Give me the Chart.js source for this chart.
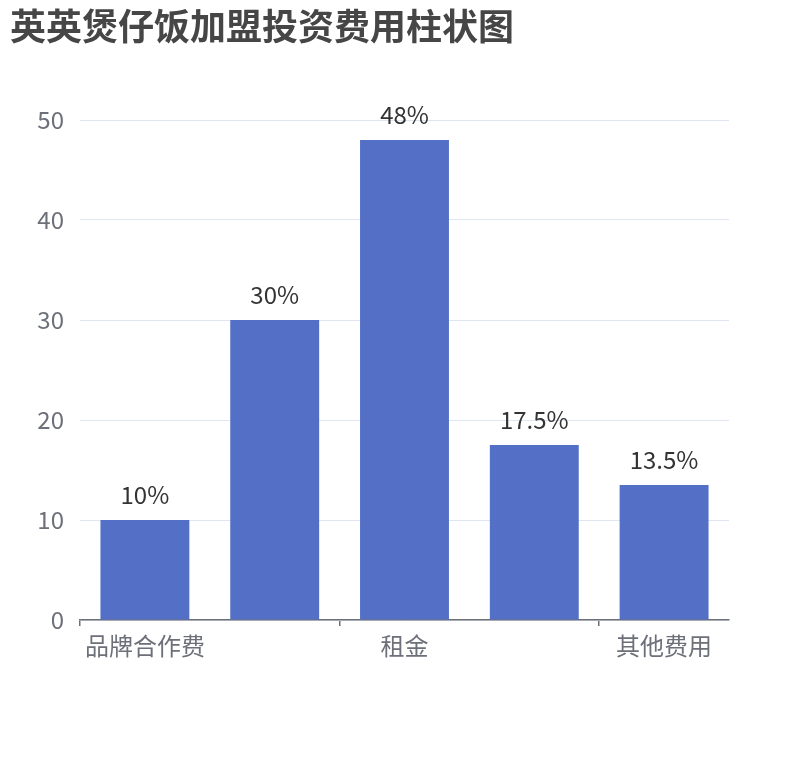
<!DOCTYPE html>
<html>
<head>
<meta charset="utf-8">
<script src="https://cdn.jsdelivr.net/npm/chart.js@4/dist/chart.umd.min.js"></script>
<style>
  body { margin: 0; background: #fff; }
  #wrap { width: 810px; height: 760px; position: relative; }
</style>
</head>
<body>
<div id="wrap"><canvas id="bar-chart"></canvas></div>
<script>
const chartTitle = '英英煲仔饭加盟投资费用柱状图';
const categories = ['品牌合作费', '装修费用', '租金', '设备费用', '其他费用'];
const values = [10, 30, 48, 17.5, 13.5];
const valueLabels = ['10%', '30%', '48%', '17.5%', '13.5%'];
const yTicks = [0, 10, 20, 30, 40, 50];

const FONT = '"Noto Sans CJK SC", "Noto Sans", sans-serif';

// Title drawn at the top left, like the original
const titlePlugin = {
  id: 'topTitle',
  afterDraw(chart) {
    const ctx = chart.ctx;
    ctx.save();
    ctx.font = 'bold 36px ' + FONT;
    ctx.fillStyle = '#464646';
    ctx.textAlign = 'left';
    ctx.textBaseline = 'middle';
    ctx.fillText(chartTitle, 10, 26);
    ctx.restore();
  }
};

// Value labels above each bar
const barLabels = {
  id: 'barLabels',
  afterDatasetsDraw(chart) {
    const ctx = chart.ctx;
    const meta = chart.getDatasetMeta(0);
    ctx.save();
    ctx.font = '24px ' + FONT;
    ctx.fillStyle = '#333';
    ctx.textAlign = 'center';
    ctx.textBaseline = 'alphabetic';
    meta.data.forEach((bar, i) => {
      ctx.fillText(valueLabels[i], bar.x, bar.y - 16);
    });
    ctx.restore();
  }
};

// show tick marks only at boundaries 0, 2, 4, 5
const shownTicks = [0, 2, 4, 5];

new Chart(document.getElementById('bar-chart'), {
  type: 'bar',
  data: {
    labels: categories,
    datasets: [{
      data: values,
      backgroundColor: '#5470c6',
      categoryPercentage: 1,
      barPercentage: 0.685
    }]
  },
  options: {
    responsive: true,
    maintainAspectRatio: false,
    animation: false,
    layout: { padding: { top: 120, right: 81, left: 0, bottom: 0 } },
    plugins: {
      legend: { display: false },
      tooltip: { enabled: false },
      title: { display: false }
    },
    scales: {
      x: {
        offset: true,
        afterFit: s => { s.height = 140; },
        border: { display: true, color: '#6e7079', width: 1.5 },
        grid: {
          offset: true,
          drawOnChartArea: false,
          drawTicks: true,
          tickLength: 6,
          lineWidth: 1.5,
          color: c => shownTicks.includes(c.index) ? '#6e7079' : 'rgba(0,0,0,0)'
        },
        ticks: {
          autoSkip: false,
          maxRotation: 0,
          padding: 5,
          color: '#6e7079',
          font: { size: 24, family: FONT },
          callback: (v, i) => (i % 2 === 0 ? categories[i] : '')
        }
      },
      y: {
        min: 0,
        max: 50,
        afterFit: s => { s.width = 80; },
        afterBuildTicks: s => { s.ticks = yTicks.map(v => ({ value: v })); },
        border: { display: false },
        grid: { color: '#e0e6f1', drawTicks: false },
        ticks: {
          padding: 16,
          color: '#6e7079',
          font: { size: 24, family: FONT }
        }
      }
    }
  },
  plugins: [titlePlugin, barLabels]
});
</script>
</body>
</html>
